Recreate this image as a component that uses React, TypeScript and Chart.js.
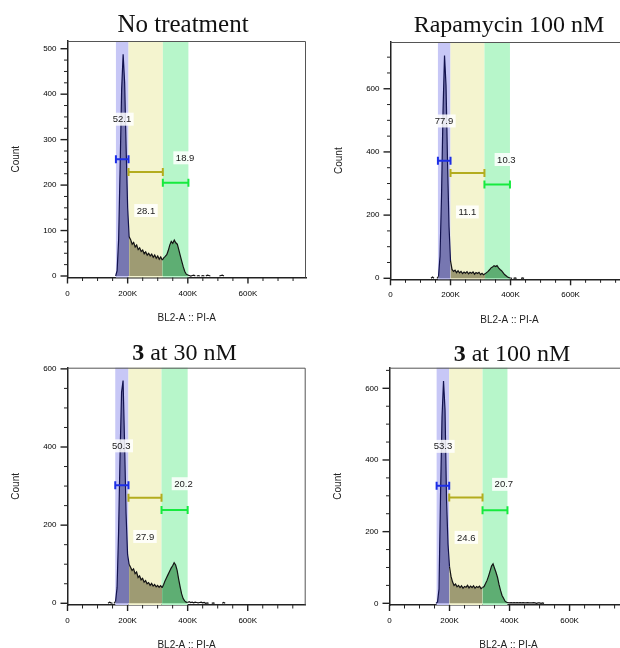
import React, { useEffect, useRef } from 'react';
import { Chart, registerables } from 'chart.js';

Chart.register(...registerables);

// Histogram bin centres (PI-A, in thousands)
const BINS = [
  130, 135, 140, 145, 150, 155, 160, 165, 170, 175,
  180, 185, 190, 195, 200, 205, 210, 215, 220, 225,
  230, 235, 240, 245, 250, 255, 260, 265, 270, 275,
  280, 285, 290, 295, 300, 305, 310, 315, 320, 325,
  330, 335, 340, 345, 350, 355, 360, 365, 370, 375,
  380, 385, 390, 395, 400, 405, 410, 415, 420, 425,
  430, 435, 440, 445, 450, 455, 460, 465, 470, 475,
  480, 485, 490, 495, 500, 505, 510, 515, 520, 525,
  530, 535, 540,
];

const NO_TREATMENT = [
  0, 0, 0, 0, 0, 0, 0, 12, 80, 240,
  410, 488, 425, 280, 150, 86, 80, 70, 74, 64,
  68, 58, 62, 54, 57, 49, 53, 46, 50, 44,
  48, 41, 46, 39, 44, 37, 42, 35, 40, 43,
  47, 56, 68, 76, 72, 79, 73, 70, 58, 45,
  32, 20, 10, 4, 2, 1, 0, 1, 2, 0,
  0, 1, 0, 0, 1, 0, 0, 2, 1, 0,
  0, 0, 0, 0, 0, 0, 1, 2, 0, 0,
  0, 0, 0,
];

const RAPAMYCIN_100 = [
  0, 0, 4, 0, 0, 0, 6, 70, 260, 530,
  705, 610, 370, 165, 55, 28, 22, 26, 18, 24,
  17, 22, 15, 20, 16, 21, 14, 19, 16, 20,
  13, 18, 15, 19, 12, 16, 11, 14, 18, 22,
  27, 33, 36, 40, 37, 40, 33, 28, 24, 18,
  12, 8, 4, 2, 1, 0, 0, 1, 0, 0,
  0, 0, 1, 0, 0, 0, 0, 0, 0, 0,
  0, 0, 0, 0, 0, 0, 0, 0, 0, 0,
  0, 0, 0,
];

const CMPD3_30 = [
  0, 0, 3, 1, 0, 0, 5, 40, 180, 380,
  540, 570, 410, 230, 125, 100, 92, 84, 88, 76,
  80, 66, 70, 60, 64, 54, 58, 50, 53, 46,
  51, 44, 48, 42, 46, 41, 45, 40, 48, 58,
  66, 74, 82, 90, 96, 104, 98, 84, 62, 42,
  24, 12, 6, 3, 2, 4, 2, 3, 1, 3,
  2, 1, 2, 3, 1, 2, 0, 1, 0, 0,
  0, 1, 0, 0, 0, 0, 0, 0, 2, 0,
  0, 0, 0,
];

const CMPD3_100 = [
  0, 0, 0, 0, 0, 0, 4, 40, 300, 520,
  620, 540, 290, 165, 102, 75, 60, 50, 54, 46,
  50, 44, 49, 42, 47, 45, 50, 43, 48, 44,
  49, 42, 47, 44, 48, 41, 44, 47, 55, 64,
  76, 90, 104, 110, 98, 86, 72, 52, 36, 22,
  14, 6, 3, 2, 1, 2, 1, 2, 1, 2,
  1, 2, 1, 2, 1, 1, 2, 1, 1, 1,
  2, 1, 0, 1, 1, 0, 1, 0, 0, 0,
  0, 0, 0,
];

const X_TICKS = [0, 200, 400, 600];
const Y_TICKS_500 = [0, 100, 200, 300, 400, 500];
const Y_TICKS_600 = [0, 200, 400, 600];

// Gates: [low K, high K, marker level (count)] for G1, S, G2/M
const GATES_NT = [[161, 203, 257], [203, 317, 229], [317, 402, 205]];
const GATES_RAPA = [[158, 200, 372], [200, 313, 333], [313, 398, 297]];
const GATES_C30 = [[159, 203, 302], [203, 313, 270], [313, 400, 239]];
const GATES_C100 = [[157, 199, 328], [199, 310, 295], [310, 393, 260]];

const PCT_NT = ['52.1', '28.1', '18.9'];
const PCT_RAPA = ['77.9', '11.1', '10.3'];
const PCT_C30 = ['50.3', '27.9', '20.2'];
const PCT_C100 = ['53.3', '24.6', '20.7'];

const BAND_COLORS = ['#c7c7f6', '#f4f4cf', '#b7f6ca'];
const FILL_COLORS = ['#7777b1', '#9e9b73', '#5eae73'];
const GATE_COLORS = ['#1c2ee6', '#b3ac1e', '#16ea3e'];
const LINE_COLORS = ['#12124e', '#141414', '#141414'];

const SANS = '"Liberation Sans", Arial, sans-serif';
const SERIF = '"Liberation Serif", "Times New Roman", serif';

type Part = { text: string; bold?: boolean };
interface Panel {
  title: Part[];
  titleX: number;
  titleBase: number;
  titleSize: number;
  counts: number[];
  yMin: number;
  yMax: number;
  yTicks: number[];
  yMinor: number;
  gates: number[][];
  pcts: string[];
  pctPos: number[][];
  left: number;
  top: number;
  w: number;
  h: number;
  area: { l: number; t: number; r: number; b: number };
  countPad: number;
  xTitlePad: number;
}

const PANELS: Panel[] = [
  {
    title: [{ text: 'No treatment' }],
    titleX: 183, titleBase: 31.7, titleSize: 25,
    counts: NO_TREATMENT, yMin: -3.3, yMax: 517, yTicks: Y_TICKS_500, yMinor: 25,
    gates: GATES_NT, pcts: PCT_NT, pctPos: [[181, 345], [261, 144], [391, 260]],
    left: 0, top: 0, w: 310, h: 330,
    area: { l: 67.5, t: 41, r: 306, b: 277.5 }, countPad: 10, xTitlePad: 5.7,
  },
  {
    title: [{ text: 'Rapamycin 100 nM' }],
    titleX: 199, titleBase: 31.7, titleSize: 24,
    counts: RAPAMYCIN_100, yMin: -3.2, yMax: 748, yTicks: Y_TICKS_600, yMinor: 50,
    gates: GATES_RAPA, pcts: PCT_RAPA, pctPos: [[178, 498], [256, 210], [386, 376]],
    left: 310, top: 0, w: 330, h: 330,
    area: { l: 80.5, t: 42, r: 318.5, b: 279.3 }, countPad: 23.3, xTitlePad: 4,
  },
  {
    title: [{ text: '3', bold: true }, { text: ' at 30 nM' }],
    titleX: 184.5, titleBase: 30, titleSize: 24,
    counts: CMPD3_30, yMin: -4.4, yMax: 603, yTicks: Y_TICKS_600, yMinor: 50,
    gates: GATES_C30, pcts: PCT_C30, pctPos: [[179, 403], [258, 171], [386, 306]],
    left: 0, top: 330, w: 310, h: 330,
    area: { l: 67.5, t: 37.7, r: 305.7, b: 275 }, countPad: 10, xTitlePad: 9,
  },
  {
    title: [{ text: '3', bold: true }, { text: ' at 100 nM' }],
    titleX: 202, titleBase: 30.7, titleSize: 24,
    counts: CMPD3_100, yMin: -4.7, yMax: 657.5, yTicks: Y_TICKS_600, yMinor: 50,
    gates: GATES_C100, pcts: PCT_C100, pctPos: [[178, 438], [256, 184], [381, 332]],
    left: 310, top: 330, w: 330, h: 330,
    area: { l: 79.5, t: 37.7, r: 317.5, b: 275 }, countPad: 22.3, xTitlePad: 9,
  },
];

function PanelChart({ p }: { p: Panel }) {
  const ref = useRef<HTMLCanvasElement>(null);

  useEffect(() => {
    const canvas = ref.current;
    if (!canvas) return;
    const points = BINS.map((x, i) => ({ x, y: p.counts[i] }));
    const gateOf = (v: number) => p.gates.findIndex((g) => v >= g[0] && v < g[1]);

    const deco = {
      id: 'deco',
      beforeDatasetsDraw(chart: any) {
        const { ctx, chartArea: a, scales } = chart;
        const x = scales.x;
        ctx.save();
        p.gates.forEach((g, i) => {
          const x0 = x.getPixelForValue(g[0]);
          const x1 = x.getPixelForValue(g[1]);
          ctx.fillStyle = BAND_COLORS[i];
          ctx.fillRect(x0, a.top, x1 - x0, a.bottom - a.top);
        });
        ctx.restore();
      },
      afterDatasetsDraw(chart: any) {
        const { ctx, scales } = chart;
        const x = scales.x;
        const y = scales.y;
        ctx.save();
        ctx.lineWidth = 2;
        p.gates.forEach((g, i) => {
          const x0 = x.getPixelForValue(g[0]);
          const x1 = x.getPixelForValue(g[1]);
          const yy = y.getPixelForValue(g[2]);
          ctx.strokeStyle = GATE_COLORS[i];
          ctx.beginPath();
          ctx.moveTo(x0, yy);
          ctx.lineTo(x1, yy);
          ctx.moveTo(x0, yy - 4);
          ctx.lineTo(x0, yy + 4);
          ctx.moveTo(x1, yy - 4);
          ctx.lineTo(x1, yy + 4);
          ctx.stroke();
        });
        ctx.font = '9.5px ' + SANS;
        ctx.textAlign = 'center';
        ctx.textBaseline = 'middle';
        p.pcts.forEach((t, i) => {
          const cx = x.getPixelForValue(p.pctPos[i][0]);
          const cy = y.getPixelForValue(p.pctPos[i][1]);
          const w = ctx.measureText(t).width + 5;
          ctx.fillStyle = 'rgba(255,255,255,0.85)';
          ctx.fillRect(cx - w / 2, cy - 6.5, w, 13);
          ctx.fillStyle = '#1a1a1a';
          ctx.fillText(t, cx, cy + 0.5);
        });
        ctx.restore();
      },
      afterDraw(chart: any) {
        const { ctx, chartArea: a, scales } = chart;
        const x = scales.x;
        const y = scales.y;
        ctx.save();
        // frame top / right
        ctx.strokeStyle = '#555';
        ctx.lineWidth = 1;
        ctx.beginPath();
        ctx.moveTo(a.left, a.top + 0.5);
        ctx.lineTo(a.right - 0.5, a.top + 0.5);
        ctx.lineTo(a.right - 0.5, a.bottom);
        ctx.stroke();
        // y ticks
        ctx.strokeStyle = '#222';
        for (let v = 0; v <= p.yMax; v += p.yMinor) {
          const major = p.yTicks.includes(v);
          const py = y.getPixelForValue(v);
          ctx.lineWidth = major ? 1.4 : 1;
          ctx.beginPath();
          ctx.moveTo(a.left - (major ? 7 : 3.5), py);
          ctx.lineTo(a.left, py);
          ctx.stroke();
        }
        // x ticks
        for (let v = 0; v <= x.max; v += 50) {
          const major = X_TICKS.includes(v);
          const px = x.getPixelForValue(v);
          ctx.lineWidth = major ? 1.4 : 1;
          ctx.beginPath();
          ctx.moveTo(px, a.bottom);
          ctx.lineTo(px, a.bottom + (major ? 6 : 3.5));
          ctx.stroke();
        }
        // title
        ctx.fillStyle = '#111';
        ctx.textBaseline = 'alphabetic';
        ctx.textAlign = 'left';
        const fontOf = (pt: Part) => (pt.bold ? 'bold ' : '') + p.titleSize + 'px ' + SERIF;
        let total = 0;
        p.title.forEach((pt) => {
          ctx.font = fontOf(pt);
          total += ctx.measureText(pt.text).width;
        });
        let tx = p.titleX - total / 2;
        p.title.forEach((pt) => {
          ctx.font = fontOf(pt);
          ctx.fillText(pt.text, tx, p.titleBase);
          tx += ctx.measureText(pt.text).width;
        });
        ctx.restore();
      },
    };

    const chart = new Chart(canvas, {
      type: 'line',
      data: {
        datasets: [
          {
            data: points,
            fill: 'origin',
            backgroundColor: 'rgba(0,0,0,0)',
            borderColor: '#141414',
            borderWidth: 1.2,
            pointRadius: 0,
            tension: 0,
            segment: {
              backgroundColor: (c: any) => {
                const i = gateOf((c.p0.parsed.x + c.p1.parsed.x) / 2);
                return i >= 0 ? FILL_COLORS[i] : 'rgba(0,0,0,0)';
              },
              borderColor: (c: any) => {
                if (c.p0.parsed.y === 0 && c.p1.parsed.y === 0) return 'rgba(0,0,0,0)';
                const i = gateOf((c.p0.parsed.x + c.p1.parsed.x) / 2);
                return i >= 0 ? LINE_COLORS[i] : '#141414';
              },
            },
          } as any,
        ],
      },
      options: {
        animation: false,
        responsive: false,
        devicePixelRatio: 1,
        layout: {
          padding: { top: p.area.t, left: 0, right: p.w - p.area.r, bottom: 0 },
        },
        plugins: {
          legend: { display: false },
          tooltip: { enabled: false },
          title: { display: false },
        },
        scales: {
          x: {
            type: 'linear',
            min: 0,
            max: 793,
            afterFit: (s: any) => {
              s.height = p.h - p.area.b;
            },
            afterBuildTicks: (s: any) => {
              s.ticks = X_TICKS.map((value) => ({ value }));
            },
            grid: {
              display: true,
              drawOnChartArea: false,
              drawTicks: true,
              tickLength: 7,
              color: 'rgba(0,0,0,0)',
            },
            border: { display: true, color: '#222', width: 1.5 },
            ticks: {
              padding: 4,
              maxRotation: 0,
              autoSkip: false,
              color: '#000',
              font: { family: SANS, size: 8 },
              callback: (v: any) => (Number(v) === 0 ? '0' : v + 'K'),
            },
            title: {
              display: true,
              text: 'BL2-A :: PI-A',
              color: '#222',
              font: { family: SANS, size: 10 },
              padding: { top: 0, bottom: p.xTitlePad },
            },
          },
          y: {
            type: 'linear',
            min: p.yMin,
            max: p.yMax,
            afterFit: (s: any) => {
              s.width = p.area.l;
            },
            afterBuildTicks: (s: any) => {
              s.ticks = p.yTicks.map((value) => ({ value }));
            },
            grid: {
              display: true,
              drawOnChartArea: false,
              drawTicks: true,
              tickLength: 7,
              color: 'rgba(0,0,0,0)',
            },
            border: { display: true, color: '#222', width: 1.5 },
            ticks: {
              padding: 4,
              autoSkip: false,
              color: '#000',
              font: { family: SANS, size: 8 },
              callback: (v: any) => String(v),
            },
            title: {
              display: true,
              text: 'Count',
              color: '#222',
              font: { family: SANS, size: 10 },
              padding: { top: p.countPad, bottom: 0 },
            },
          },
        },
      } as any,
      plugins: [deco],
    });
    return () => chart.destroy();
  }, [p]);

  return (
    <canvas
      ref={ref}
      width={p.w}
      height={p.h}
      style={{ position: 'absolute', left: p.left, top: p.top, width: p.w, height: p.h }}
    />
  );
}

export default function App() {
  return (
    <div
      style={{
        position: 'absolute',
        left: 0,
        top: 0,
        width: 620,
        height: 648,
        overflow: 'hidden',
        background: '#fff',
      }}
    >
      {PANELS.map((p, i) => (
        <PanelChart key={i} p={p} />
      ))}
    </div>
  );
}
